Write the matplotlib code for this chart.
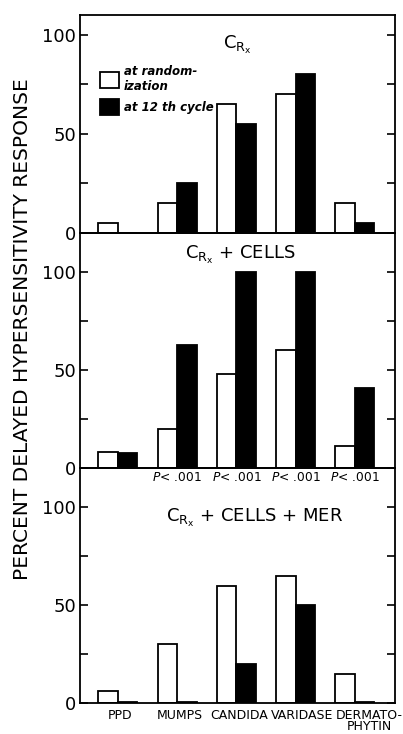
import matplotlib
matplotlib.use("Agg")
import matplotlib.pyplot as plt
import numpy as np
from matplotlib.patches import Patch
from matplotlib.transforms import blended_transform_factory

plt.rcParams["font.family"] = ["DejaVu Sans"]
plt.rcParams["mathtext.default"] = "regular"
NARROW = ["Liberation Sans Narrow", "DejaVu Sans"]

antigens = ["PPD", "MUMPS", "CANDIDA", "VARIDASE", "DERMATO-\nPHYTIN"]
panel_titles = ["C$_{R_x}$", "C$_{R_x}$ + CELLS", "C$_{R_x}$ + CELLS + MER"]

# percent responding: (at randomization, at 12th cycle)
rand_crx = [5, 15, 65, 70, 15]
cyc12_crx = [0, 25, 55, 80, 5]
rand_cells = [8, 20, 48, 60, 11]
cyc12_cells = [7.5, 63, 100, 100, 41]
rand_mer = [6, 30, 60, 65, 15]
cyc12_mer = [0.6, 0.6, 20, 50, 0.6]
p_labels = ["", "P< .001", "P< .001", "P< .001", "P< .001"]

panels = [(rand_crx, cyc12_crx), (rand_cells, cyc12_cells), (rand_mer, cyc12_mer)]
ylims = [110, 120, 120]
# axes rects in figure fraction (left, bottom, width, height)
rects = [(0.1985, 0.6826, 0.782, 0.297),
         (0.1985, 0.3624, 0.782, 0.3202),
         (0.1985, 0.0422, 0.782, 0.3202)]
title_pos = [(0.50, 0.862), (0.51, 0.906), (0.555, 0.787)]
label_shift = [0.03, 0.05, 0.04, 0.11, 0.24]   # nudge crowded x labels right

fig = plt.figure(figsize=(4.03, 7.34), dpi=100)
x = np.arange(len(antigens))
w = 0.33
axes = []
for i, ((white, black), ylim, rect) in enumerate(zip(panels, ylims, rects)):
    ax = fig.add_axes(rect)
    ax.patch.set_visible(False)
    ax.bar(x - w / 2, white, w, color="white", edgecolor="black", lw=1.3)
    ax.bar(x + w / 2, black, w, color="black", edgecolor="black", lw=1.3)
    ax.set_xlim(-0.64, 4.68)
    ax.set_ylim(0, ylim)
    ax.set_yticks([0, 50, 100])
    ax.set_yticklabels(["0", "50", "100"], fontsize=13)
    ax.set_yticks([25, 75], minor=True)
    ax.tick_params(axis="y", which="both", direction="in", length=6, width=1.2,
                   right=True, pad=3)
    ax.set_xticks([])
    for sp in ax.spines.values():
        sp.set_linewidth(1.3)
    ax.text(*title_pos[i], panel_titles[i], transform=ax.transAxes,
            ha="center", va="center", fontsize=13)
    axes.append(ax)

# antigen names under the bottom panel
trb = blended_transform_factory(axes[2].transData, axes[2].transAxes)
for xi, name, dx in zip(x, antigens, label_shift):
    axes[2].text(xi + dx, -0.025, name, transform=trb, ha="center", va="top",
                 fontsize=9, linespacing=0.85, family=NARROW, clip_on=False)

# significance labels under the C_Rx + CELLS panel
tr = blended_transform_factory(axes[1].transData, axes[1].transAxes)
for xi, lab in zip(x, p_labels):
    if lab:
        axes[1].text(xi, -0.04, "$\\it{P}$< .001", transform=tr, ha="center",
                     va="center", fontsize=8.8, clip_on=False, zorder=5)

handles = [Patch(facecolor="white", edgecolor="black", lw=1.3),
           Patch(facecolor="black", edgecolor="black", lw=1.3)]
axes[0].legend(handles, ["at random-\nization", "at 12 th cycle"], loc="upper left",
               bbox_to_anchor=(0.03, 0.82), frameon=False, handlelength=1.6,
               handleheight=1.8, handletextpad=0.4, labelspacing=0.5,
               prop={"style": "italic", "size": 8.5, "weight": "bold",
                     "family": NARROW})

fig.text(0.057, 0.552, "PERCENT DELAYED HYPERSENSITIVITY RESPONSE", rotation=90,
         ha="center", va="center", fontsize=14.5)

fig.savefig("out.png", dpi=100)
